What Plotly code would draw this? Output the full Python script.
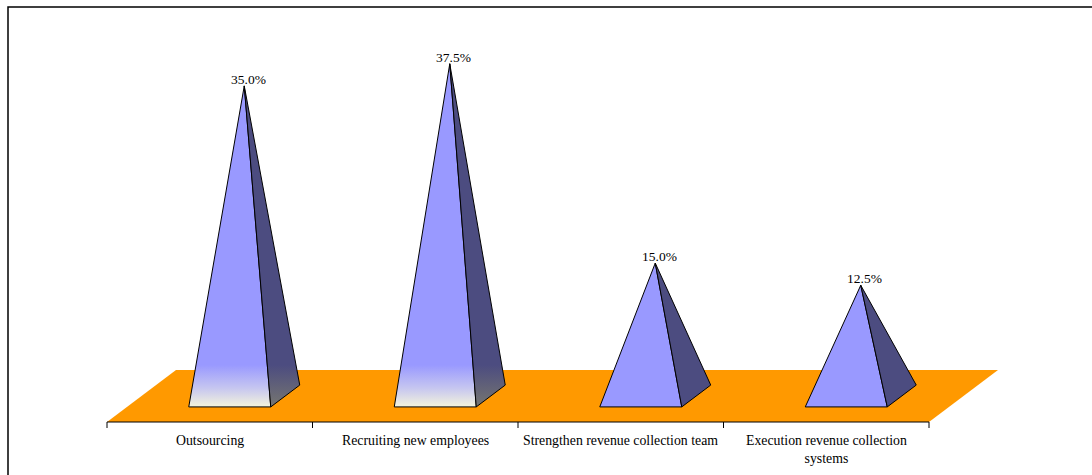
import plotly.graph_objects as go

# ---- data ----
categories = [
    "Outsourcing",
    "Recruiting new employees",
    "Strengthen revenue collection team",
    "Execution revenue collection<br>systems",
]
values = [35.0, 37.5, 15.0, 12.5]
value_labels = ["35.0%", "37.5%", "15.0%", "12.5%"]

# ---- styling / geometry constants ----
faded_base = [True, True, False, False]   # fill style per pyramid
W, H = 1092, 475
AXIS_X0_PX = 107       # left end of category axis
CAT_PX = 205.5         # width of one category
BASE_Y_PX = 422        # y pixel of floor front edge (value 0)
UNIT_PX = 8.86         # pixels per percentage point
DEPTH_DX_PX, DEPTH_DY_PX = 69, 52   # oblique depth projection of floor
HALF_W = 41 / CAT_PX   # pyramid half width (category units)
D_FRONT, D_BACK = 0.29, 0.71
FONT = "Liberation Serif, Times New Roman, serif"

n = len(categories)
xr = [-0.5 - AXIS_X0_PX / CAT_PX, -0.5 + (W - AXIS_X0_PX) / CAT_PX]
yr = [-(H - BASE_Y_PX) / UNIT_PX, BASE_Y_PX / UNIT_PX]
ddx = DEPTH_DX_PX / CAT_PX
ddy = DEPTH_DY_PX / UNIT_PX


def proj(x, d, h):
    return x + d * ddx, h + d * ddy


fig = go.Figure()

# floor
pts = [proj(-0.5, 0, 0), proj(n - 0.5, 0, 0), proj(n - 0.5, 1, 0), proj(-0.5, 1, 0)]
fig.add_trace(go.Scatter(
    x=[p[0] for p in pts] + [pts[0][0]], y=[p[1] for p in pts] + [pts[0][1]],
    mode="lines", fill="toself", fillcolor="#FF9900", line=dict(width=0, color="#FF9900"),
    hoverinfo="skip"))

# axis line and ticks
ax_x, ax_y = [-0.5, n - 0.5, None], [0, 0, None]
tick_len = 6 / UNIT_PX
for k in range(n + 1):
    ax_x += [k - 0.5, k - 0.5, None]
    ax_y += [0, -tick_len, None]
fig.add_trace(go.Scatter(x=ax_x, y=ax_y, mode="lines",
                         line=dict(color="#000000", width=1), hoverinfo="skip"))

annotations = []
grad_lo = proj(0, D_FRONT, 0)[1]
grad_hi = (BASE_Y_PX - 365) / UNIT_PX

for i, (v, lab) in enumerate(zip(values, value_labels)):
    fl = proj(i - HALF_W, D_FRONT, 0)
    fr = proj(i + HALF_W, D_FRONT, 0)
    br = proj(i + HALF_W, D_BACK, 0)
    ap = proj(i, 0.5, v)

    front = dict(x=[fl[0], fr[0], ap[0], fl[0]], y=[fl[1], fr[1], ap[1], fl[1]])
    side = dict(x=[fr[0], br[0], ap[0], fr[0]], y=[fr[1], br[1], ap[1], fr[1]])

    if faded_base[i]:
        fg = dict(type="vertical", start=grad_lo, stop=grad_hi,
                  colorscale=[[0, "#F4F4DC"], [0.45, "#C6C6F0"], [1, "#9999FF"]])
        sg = dict(type="vertical", start=grad_lo, stop=grad_hi,
                  colorscale=[[0, "#767670"], [1, "#4C4C80"]])
        fig.add_trace(go.Scatter(**front, mode="lines", fill="toself", fillgradient=fg,
                                 line=dict(color="#000000", width=1), hoverinfo="skip"))
        fig.add_trace(go.Scatter(**side, mode="lines", fill="toself", fillgradient=sg,
                                 line=dict(color="#000000", width=1), hoverinfo="skip"))
    else:
        fig.add_trace(go.Scatter(**front, mode="lines", fill="toself", fillcolor="#9999FF",
                                 line=dict(color="#000000", width=1), hoverinfo="skip"))
        fig.add_trace(go.Scatter(**side, mode="lines", fill="toself", fillcolor="#4C4C80",
                                 line=dict(color="#000000", width=1), hoverinfo="skip"))

    annotations.append(dict(x=ap[0], y=ap[1], text=lab, showarrow=False,
                            xanchor="center", yanchor="bottom", xshift=4, yshift=-3,
                            font=dict(family=FONT, size=13.5, color="#000000")))

for i, c in enumerate(categories):
    annotations.append(dict(x=i, y=0, text=c, showarrow=False,
                            xanchor="center", yanchor="top", yshift=-9,
                            font=dict(family=FONT, size=13.8, color="#000000")))

fig.update_layout(
    width=W, height=H,
    margin=dict(l=0, r=0, t=0, b=0),
    paper_bgcolor="#FFFFFF", plot_bgcolor="#FFFFFF",
    showlegend=False,
    xaxis=dict(range=xr, visible=False, fixedrange=True),
    yaxis=dict(range=yr, visible=False, fixedrange=True),
    annotations=annotations,
    shapes=[dict(type="rect", xref="paper", yref="paper",
                 x0=8 / W, x1=1.05, y0=-0.05, y1=1 - 7 / H,
                 line=dict(color="#000000", width=1.5), fillcolor="rgba(0,0,0,0)")],
)

fig.write_html("out.html")
